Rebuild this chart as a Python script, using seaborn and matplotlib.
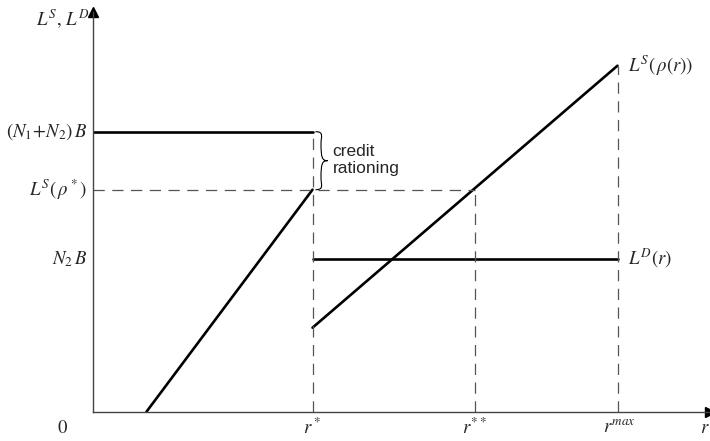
import numpy as np
import pandas as pd
import matplotlib
matplotlib.use("Agg")
import matplotlib.pyplot as plt
import seaborn as sns
from matplotlib.path import Path
from matplotlib.patches import PathPatch

# interest-rate positions on the horizontal axis
r_star = 2.20
r_2star = 3.82
r_max = 5.25
r_left0 = 0.54   # where the left supply line starts

# loan levels on the vertical axis
total_B = 2.80      # (N1+N2)B
ls_rho_star = 2.22  # L^S(rho*)
n2_B = 1.53         # N2B
ls_start = 0.84     # L^S(rho(r)) at r*
ls_end = 3.46       # L^S(rho(r)) at r_max

x_max = 6.175
y_max = 3.997

sns.set_style("white")
plt.rcParams['mathtext.fontset'] = 'stix'

fig = plt.figure(figsize=(7.10, 4.41), dpi=100)
ax = fig.add_axes([92.5 / 710, (441 - 411.7) / 441, (710 - 92.5) / 710, (411.7 - 12) / 441])
ax.set_xlim(0, x_max)
ax.set_ylim(0, y_max)

solid = dict(color='black', linewidth=1.9, legend=False)
dash = dict(color='#555555', linewidth=0.9, dashes=(9, 6))

# solid lines
seg_left = pd.DataFrame({'x': [r_left0, r_star], 'y': [0, ls_rho_star]})
seg_top = pd.DataFrame({'x': [0, r_star], 'y': [total_B, total_B]})
seg_supply = pd.DataFrame({'x': [r_star, r_max], 'y': [ls_start, ls_end]})
seg_demand = pd.DataFrame({'x': [r_star, r_max], 'y': [n2_B, n2_B]})
for seg in [seg_left, seg_top, seg_supply, seg_demand]:
    sns.lineplot(data=seg, x='x', y='y', ax=ax, **solid)

# dashed guide lines
ax.plot([r_star, r_star], [0, total_B], **dash)
ax.plot([0, r_2star], [ls_rho_star, ls_rho_star], **dash)
ax.plot([r_2star, r_2star], [0, ls_rho_star], **dash)
ax.plot([r_max, r_max], [0, ls_end], **dash)

# axes look
for s in ['top', 'right']:
    ax.spines[s].set_visible(False)
for s in ['left', 'bottom']:
    ax.spines[s].set_color('#444444')
    ax.spines[s].set_linewidth(1.0)
ax.set_xticks([])
ax.set_yticks([])
ax.set_xlabel('')
ax.set_ylabel('')
ax.plot(1, 0, '>', color='black', markersize=7, transform=ax.transAxes, clip_on=False)
ax.plot(0, 1, '^', color='black', markersize=7, transform=ax.transAxes, clip_on=False)

# curly brace for credit rationing
bx = r_star + 0.03
bw = 0.11
ymid = (total_B + ls_rho_star) / 2
verts = [
    (bx, total_B), (bx + bw * 0.8, total_B), (bx + bw * 0.5, total_B - 0.05), (bx + bw * 0.5, total_B - 0.12),
    (bx + bw * 0.5, ymid + 0.03), (bx + bw * 0.6, ymid), (bx + bw * 1.1, ymid),
    (bx + bw * 0.6, ymid), (bx + bw * 0.5, ymid - 0.03), (bx + bw * 0.5, ls_rho_star + 0.12),
    (bx + bw * 0.5, ls_rho_star + 0.05), (bx + bw * 0.8, ls_rho_star), (bx, ls_rho_star),
]
codes = [Path.MOVETO, Path.CURVE4, Path.CURVE4, Path.CURVE4,
         Path.CURVE4, Path.CURVE4, Path.CURVE4,
         Path.CURVE4, Path.CURVE4, Path.CURVE4,
         Path.CURVE4, Path.CURVE4, Path.CURVE4]
ax.add_patch(PathPatch(Path(verts, codes), facecolor='none', edgecolor='black', linewidth=0.8))
ax.text(bx + bw + 0.06, ymid + 0.01, 'credit\nrationing', fontsize=12.5, family='Liberation Sans',
        ha='left', va='center', linespacing=1.15)

# labels
lab = dict(fontsize=13.5, ha='right', va='center')
ax.text(-0.05, total_B, r'$(N_1\!+\!N_2)\,B$', **lab)
ax.text(-0.05, ls_rho_star, r'$L^S(\,\rho^*)$', **lab)
ax.text(-0.05, n2_B, r'$N_2\,B$', **lab)
ax.text(-0.03, y_max - 0.07, r'$L^S,\,L^D$', fontsize=13.5, ha='right', va='center')
ax.text(r_max + 0.1, ls_end, r'$L^S(\,\rho(r))$', fontsize=13.5, ha='left', va='center')
ax.text(r_max + 0.1, n2_B, r'$L^D(r)$', fontsize=13.5, ha='left', va='center')

xl = dict(fontsize=13.5, ha='center', va='top')
ax.text(-0.3, -0.06, r'$0$', **xl)
ax.text(r_star, -0.06, r'$r^*$', **xl)
ax.text(r_2star, -0.06, r'$r^{**}$', **xl)
ax.text(r_max + 0.02, -0.06, r'$r^{max}$', **xl)
ax.text(x_max - 0.005, -0.06, r'$r$', fontsize=13.5, ha='right', va='top')

fig.savefig('out.png', dpi=100)
